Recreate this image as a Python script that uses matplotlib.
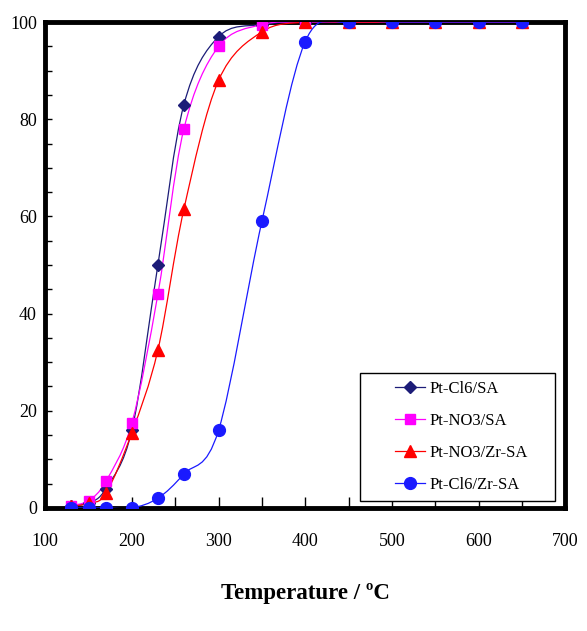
import numpy as np
import matplotlib
matplotlib.use('Agg')
import matplotlib.pyplot as plt
from matplotlib.path import Path
from matplotlib.patches import PathPatch, Rectangle

plt.rcParams['font.family'] = ['Liberation Serif', 'DejaVu Serif']

temps = [130, 150, 170, 200, 230, 260, 300, 350, 400, 450, 500, 550, 600, 650]
cl6_sa = [0.5, 1, 4, 16, 50, 83, 97, 99.5, 100, 100, 100, 100, 100, 100]
no3_sa = [0.5, 1.5, 5.5, 17.5, 44, 78, 95, 99.5, 100, 100, 100, 100, 100, 100]
no3_zr_sa = [0.3, 1, 3, 15.5, 32.5, 61.5, 88, 98, 100, 100, 100, 100, 100, 100]
cl6_zr_sa = [0, 0, 0, 0, 2, 7, 16, 59, 96, 100, 100, 100, 100, 100]

labels = ['Pt-Cl6/SA', 'Pt-NO3/SA', 'Pt-NO3/Zr-SA', 'Pt-Cl6/Zr-SA']
colors = ['#1c1c78', '#ff00ff', '#ff0000', '#1a1aff']
markers = ['D', 's', '^', 'o']
msizes = [6.5, 7.5, 8, 8.5]


def smooth_path(x, y):
    # excel-like smoothed line: cubic bezier segments with catmull-rom tangents
    x = np.asarray(x, float)
    y = np.asarray(y, float)
    verts = [(x[0], y[0])]
    codes = [Path.MOVETO]
    n = len(x)
    for i in range(n - 1):
        p0 = (x[max(i - 1, 0)], y[max(i - 1, 0)])
        p1 = (x[i], y[i])
        p2 = (x[i + 1], y[i + 1])
        p3 = (x[min(i + 2, n - 1)], y[min(i + 2, n - 1)])
        c1 = (p1[0] + (p2[0] - p0[0]) / 6, p1[1] + (p2[1] - p0[1]) / 6)
        c2 = (p2[0] - (p3[0] - p1[0]) / 6, p2[1] - (p3[1] - p1[1]) / 6)
        verts += [c1, c2, p2]
        codes += [Path.CURVE4] * 3
    return Path(verts, codes)


fig = plt.figure(figsize=(5.87, 6.31), dpi=100)
ax = fig.add_axes([0.077, 0.195, 0.886, 0.77])

series = [cl6_sa, no3_sa, no3_zr_sa, cl6_zr_sa]
for ys, lab, c, m, ms in zip(series, labels, colors, markers, msizes):
    ax.add_patch(PathPatch(smooth_path(temps, ys), fill=False, edgecolor=c, lw=0.9, zorder=2))
    ax.plot(temps, ys, linestyle='none', marker=m, color=c, markersize=ms, zorder=3)
    ax.plot([], [], color=c, lw=0.9, marker=m, markersize=ms, label=lab)

ax.set_xlim(100, 700)
ax.set_ylim(0, 100)
ax.set_xticks(range(100, 701, 100))
ax.set_xticks(range(100, 701, 50), minor=True)
ax.set_yticks(range(0, 101, 20))
ax.set_yticks(range(0, 101, 5), minor=True)
ax.tick_params(which='both', direction='in', labelsize=13)
ax.tick_params(axis='x', which='major', length=8, width=1, pad=18)
ax.tick_params(axis='x', which='minor', length=8, width=1)
ax.tick_params(axis='y', which='major', length=5, width=1, pad=6)
ax.tick_params(axis='y', which='minor', length=5, width=1)
for s in ax.spines.values():
    s.set_linewidth(3.5)
    s.set_zorder(1)

ax.set_xlabel('Temperature / ºC', fontsize=16.5, fontweight='bold', labelpad=24)

# legend box drawn separately so the padding can be wider at the sides
ax.add_patch(Rectangle((0.606, 0.0145), 0.375, 0.263, transform=ax.transAxes,
                       facecolor='white', edgecolor='black', lw=1, zorder=4))
leg = ax.legend(loc='center', bbox_to_anchor=(0.80, 0.146), fontsize=12,
                frameon=False, handlelength=1.8, labelspacing=0.95,
                borderpad=0.2, handletextpad=0.3)
leg.set_zorder(5)

fig.savefig('out.png', dpi=100)
